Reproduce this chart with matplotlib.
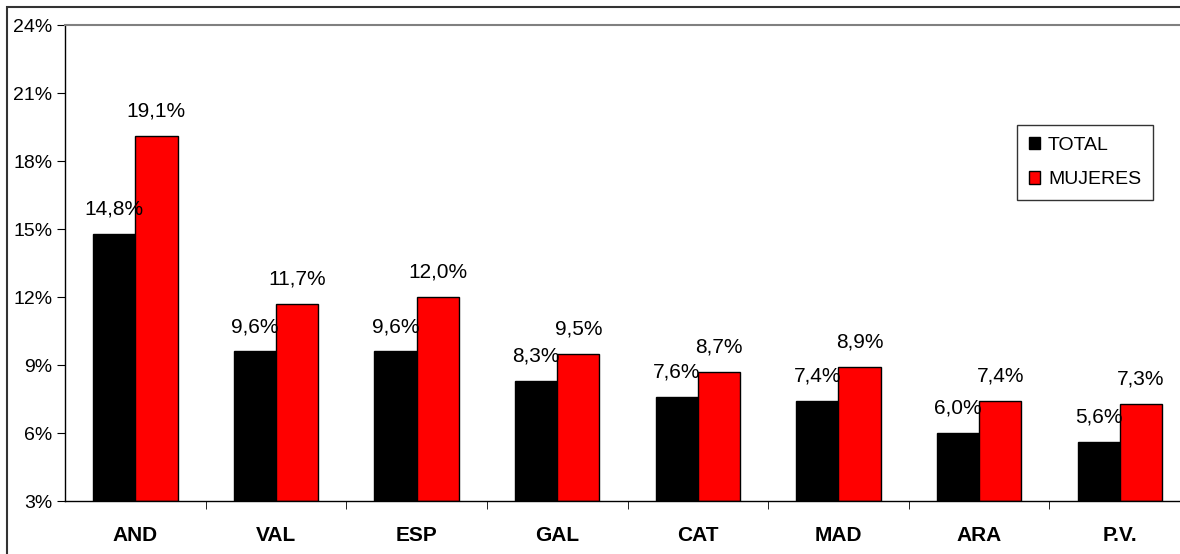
import numpy as np
import matplotlib.pyplot as plt
from matplotlib.patches import Rectangle

plt.rcParams['font.family'] = ['Liberation Sans', 'DejaVu Sans']

regiones = ["AND", "VAL", "ESP", "GAL", "CAT", "MAD", "ARA", "P.V."]
total = [14.8, 9.6, 9.6, 8.3, 7.6, 7.4, 6.0, 5.6]
mujeres = [19.1, 11.7, 12.0, 9.5, 8.7, 8.9, 7.4, 7.3]
yticks = [3, 6, 9, 12, 15, 18, 21, 24]

fig = plt.figure(figsize=(11.8, 5.54), dpi=100)
# marco exterior
fig.patches.append(Rectangle((7 / 1180, -0.1), 1.2, 1 - 7 / 554 + 0.1, transform=fig.transFigure,
                             fill=False, edgecolor="#333333", linewidth=1.5))

ax = fig.add_axes([65 / 1180, 1 - 501 / 554, 1125 / 1180, 476 / 554])

x = np.arange(len(regiones))
w = 0.3
b1 = ax.bar(x - w / 2, [t - 3 for t in total], w, bottom=3, color="black",
            edgecolor="black", linewidth=1, label="TOTAL")
b2 = ax.bar(x + w / 2, [m - 3 for m in mujeres], w, bottom=3, color="#ff0000",
            edgecolor="black", linewidth=1, label="MUJERES")

for xi, v in zip(x, total):
    ax.annotate(f"{v:.1f}%".replace(".", ","), (xi - w / 2, v), xytext=(0, 11),
                textcoords="offset points", ha="center", va="bottom", fontsize=15)
for xi, v in zip(x, mujeres):
    ax.annotate(f"{v:.1f}%".replace(".", ","), (xi + w / 2, v), xytext=(0, 11),
                textcoords="offset points", ha="center", va="bottom", fontsize=15)

ax.set_xlim(-0.5, len(regiones) - 0.5)
ax.set_ylim(3, 24)
ax.set_yticks(yticks)
ax.set_yticklabels([f"{t}%" for t in yticks], fontsize=14)
ax.set_xticks(x)
ax.set_xticklabels(regiones, fontsize=15, fontweight="bold")
ax.set_xticks(np.arange(len(regiones)) + 0.5, minor=True)
ax.tick_params(axis="x", which="major", length=0, pad=18)
ax.tick_params(axis="x", which="minor", length=6, direction="out")
ax.tick_params(axis="y", length=6, direction="out", pad=3)

ax.spines["top"].set_color("#808080")
ax.spines["top"].set_linewidth(1.5)
ax.spines["right"].set_visible(False)
ax.spines["left"].set_linewidth(1)
ax.spines["bottom"].set_linewidth(1)

leg = ax.legend(loc="upper left", bbox_to_anchor=(1017 / 1180, 1 - 125 / 554),
                bbox_transform=fig.transFigure, fontsize=14, frameon=True, fancybox=False,
                handlelength=0.6, handleheight=0.6, handletextpad=0.4, borderpad=0.6,
                labelspacing=0.9, borderaxespad=0)
leg.get_frame().set_edgecolor("black")
leg.get_frame().set_linewidth(1)

fig.savefig("out.png", dpi=100)
